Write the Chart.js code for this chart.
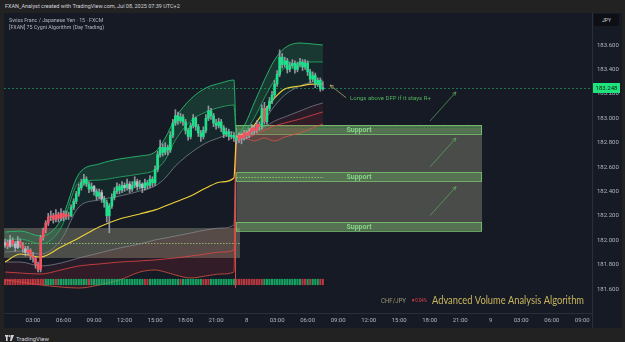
<!DOCTYPE html>
<html>
<head>
<meta charset="utf-8">
<script src="https://cdn.jsdelivr.net/npm/chart.js@4.4.1/dist/chart.umd.min.js"></script>
<style>
  html, body { margin: 0; padding: 0; width: 625px; height: 342px; overflow: hidden; background: #222222; font-family: Roboto, 'Liberation Sans', sans-serif; }
  #head { position: absolute; left: 5px; top: 3px; font-size: 5.5px; line-height: 7px; color: #d1d4dc; white-space: nowrap; }
  #wrap { position: absolute; left: 4px; top: 13px; width: 618px; height: 315px; }
  #title { position: absolute; left: 9px; top: 16.5px; font-size: 5.3px; line-height: 7px; color: #b2b5be; white-space: nowrap; }
  #jpy { position: absolute; left: 594px; top: 14px; width: 25px; height: 12px; background: #0d0f15; color: #d1d4dc; font-size: 5px; line-height: 12px; text-align: center; }
  #logo { position: absolute; left: 5px; top: 334px; height: 8px; display: flex; align-items: center; color: #d1d4dc; font-size: 6px; }
  #logo svg { margin-right: 2px; }
</style>
</head>
<body>
<div id="head">FXAN_Analyst created with TradingView.com, Jul 08, 2025 07:39 UTC+2</div>
<div id="wrap"><canvas id="chart" width="618" height="315"></canvas></div>
<div id="title">Swiss Franc / Japanese Yen · 15 · FXCM<br>[FXAN] 75 Cygni Algorithm (Day Trading)</div>
<div id="jpy">JPY</div>
<div id="logo"><svg width="9" height="6" viewBox="0 0 9 6"><rect x="0" y="0" width="3.4" height="1.6" fill="#d1d4dc"/><rect x="1" y="0" width="1.6" height="6" fill="#d1d4dc"/><circle cx="4.6" cy="1" r="0.9" fill="#d1d4dc"/><polygon points="6,0 9,0 6.6,6 5,6" fill="#d1d4dc"/></svg>TradingView</div>
<script>
// 15 min CHF/JPY candles [open, high, low, close], first bar at 00:15 Jul 7
const candles = [
  [181.96,182.01,181.94,181.98],[181.98,182.00,181.93,181.95],[181.95,182.04,181.94,182.00],[182.00,182.02,181.95,181.97],
  [181.97,181.99,181.91,181.94],[181.94,182.03,181.93,181.99],[181.99,182.01,181.94,181.96],[181.96,181.98,181.90,181.93],
  [181.93,181.95,181.87,181.90],[181.90,181.95,181.88,181.92],[181.92,181.93,181.84,181.87],[181.87,181.90,181.82,181.85],
  [181.85,181.86,181.77,181.80],[181.80,181.82,181.74,181.76],[181.76,182.04,181.74,182.02],[182.02,182.10,182.00,182.08],
  [182.08,182.16,182.06,182.14],[182.14,182.22,182.12,182.19],[182.19,182.24,182.16,182.20],[182.20,182.22,182.14,182.17],
  [182.17,182.25,182.15,182.21],[182.21,182.23,182.15,182.18],[182.18,182.26,182.16,182.22],[182.22,182.24,182.16,182.19],
  [182.19,182.24,182.17,182.21],[182.21,182.23,182.17,182.20],[182.20,182.29,182.19,182.27],[182.27,182.34,182.25,182.32],
  [182.32,182.40,182.30,182.38],[182.38,182.46,182.36,182.43],[182.43,182.50,182.41,182.47],[182.47,182.54,182.45,182.50],
  [182.50,182.52,182.44,182.46],[182.46,182.48,182.39,182.42],[182.42,182.47,182.40,182.44],[182.44,182.45,182.37,182.40],
  [182.40,182.42,182.33,182.36],[182.36,182.42,182.34,182.39],[182.39,182.41,182.31,182.34],[182.34,182.36,182.27,182.31],
  [182.31,182.33,182.15,182.20],[182.20,182.30,182.06,182.28],[182.28,182.38,182.26,182.35],[182.35,182.43,182.33,182.40],
  [182.40,182.47,182.38,182.44],[182.44,182.46,182.38,182.41],[182.41,182.48,182.39,182.45],[182.45,182.47,182.40,182.43],
  [182.43,182.50,182.41,182.46],[182.46,182.48,182.39,182.42],[182.42,182.48,182.40,182.45],[182.45,182.52,182.43,182.48],
  [182.48,182.50,182.41,182.44],[182.44,182.49,182.42,182.46],[182.46,182.47,182.39,182.43],[182.43,182.50,182.41,182.47],
  [182.47,182.49,182.42,182.45],[182.45,182.53,182.43,182.50],[182.50,182.52,182.44,182.47],[182.47,182.61,182.45,182.58],
  [182.58,182.73,182.56,182.70],[182.70,182.82,182.68,182.76],[182.76,182.79,182.69,182.72],[182.72,182.80,182.70,182.76],
  [182.76,182.78,182.70,182.74],[182.74,182.89,182.72,182.86],[182.86,182.99,182.84,182.96],[182.96,183.07,182.94,183.02],
  [183.02,183.05,182.95,182.98],[182.98,183.04,182.96,183.01],[183.01,183.03,182.94,182.97],[182.97,182.99,182.87,182.90],
  [182.90,182.92,182.82,182.85],[182.85,182.96,182.83,182.94],[182.94,183.03,182.92,183.00],[183.00,183.01,182.90,182.93],
  [182.93,182.95,182.85,182.88],[182.88,182.90,182.81,182.85],[182.85,182.93,182.83,182.90],[182.90,183.03,182.88,183.00],
  [183.00,183.10,182.98,183.06],[183.06,183.08,182.99,183.02],[183.02,183.04,182.93,182.96],[182.96,182.99,182.91,182.94],
  [182.94,183.00,182.92,182.97],[182.97,182.99,182.89,182.92],[182.92,182.94,182.84,182.87],[182.87,182.92,182.85,182.89],
  [182.89,182.91,182.82,182.85],[182.85,182.89,182.83,182.86],[182.86,182.88,182.81,182.84],[182.84,182.86,182.79,182.82],
  [182.82,182.88,182.80,182.86],[182.86,182.88,182.79,182.84],[182.84,182.90,182.82,182.88],[182.88,182.90,182.83,182.86],
  [182.86,182.92,182.84,182.89],[182.89,182.95,182.87,182.92],[182.92,182.94,182.87,182.90],[182.90,182.98,182.88,182.95],
  [182.95,182.97,182.90,182.93],[182.93,183.11,182.91,183.08],[183.08,183.13,182.95,182.97],[182.97,183.10,182.95,183.08],
  [183.08,183.17,183.06,183.14],[183.14,183.22,183.12,183.19],[183.19,183.31,183.17,183.28],[183.28,183.39,183.26,183.36],
  [183.36,183.56,183.34,183.50],[183.50,183.53,183.41,183.44],[183.44,183.50,183.42,183.47],[183.47,183.49,183.37,183.40],
  [183.40,183.46,183.38,183.43],[183.43,183.48,183.41,183.45],[183.45,183.47,183.37,183.40],[183.40,183.46,183.38,183.44],
  [183.44,183.49,183.42,183.46],[183.46,183.48,183.39,183.42],[183.42,183.48,183.40,183.45],[183.45,183.47,183.35,183.38],
  [183.38,183.40,183.29,183.32],[183.32,183.38,183.30,183.35],[183.35,183.37,183.25,183.28],[183.28,183.33,183.26,183.31],
  [183.31,183.33,183.22,183.24],[183.24,183.30,183.23,183.25]
];
const firstBarHour = 0.25;
const barStep = 0.25;
// algorithm candle colouring: g = bull, r = bear, w = neutral
const candleTone = 'wrwrwwrrwr' + 'rrrrrrrrrrrrrrrr' +
  'gggggggggwggwggggggggwgwggwgw' + 'gggggggggg' + 'gggggggggg' + 'gggggggggg' + 'ggggggg' +
  'rrrrrrrrr' + 'g' + 'r' + 'gggggggggg' + 'gggggggggg' + 'ggg';
// volume analysis strip under the candles
const volumeTone = 'rrrrrrrrrrrrrrrr' + 'ggggrggggggggggggrggggggg' +
  'ggggggggggggggrrggggggggggggrggggggggrrrgggggggggg' + 'rrrrrrrrrrr' + 'gggggggggggggg' + 'grrgrgggrr';
const volumeStrip = [181.635, 181.68];

// Cygni bands, sampled hours (Jul 7 session then Jul 8 session)
const bandHours = [0.25, 1.75, 3.75, 5.75, 7.5, 9.5, 11.5, 13.5, 15, 16, 17, 18.5, 20, 21.5, 22.75,
                   23, 23.75, 24.75, 25.75, 26.75, 27.75, 29.25, 30.5, 31.5];
const upperOuter = [182.067, 182.075, 182.034, 182.166, 182.543, 182.625, 182.666, 182.690, 182.723, 182.838, 183.002, 183.157, 183.248, 183.289, 183.313,
                    182.862, 182.936, 183.125, 183.313, 183.477, 183.575, 183.616, 183.608, 183.600];
const upperInner = [182.002, 182.010, 181.969, 182.100, 182.469, 182.493, 182.518, 182.543, 182.575, 182.657, 182.821, 182.977, 183.051, 183.092, 183.108,
                    182.846, 182.879, 183.002, 183.166, 183.313, 183.411, 183.452, 183.461, 183.461];
const upperBase = [181.903, 181.911, 181.887, 182.002, 182.272, 182.330, 182.362, 182.403, 182.444, 182.510, 182.608, 182.715, 182.797, 182.846, 182.887,
                   182.821, 182.830, 182.879, 182.985, 183.100, 183.190, 183.264, 183.297, 183.313];
const dfpLine = [181.821, 181.887, 181.862, 181.944, 182.018, 182.108, 182.174, 182.215, 182.248, 182.280, 182.313, 182.362, 182.428, 182.477, 182.510,
                 182.838, 182.870, 182.944, 183.059, 183.166, 183.239, 183.264, 183.280, 183.280];
const lowerBase = [181.821, 181.821, 181.789, 181.813, 181.854, 181.895, 181.936, 181.969, 182.002, 182.018, 182.034, 182.059, 182.084, 182.100, 182.125,
                   182.821, 182.854, 182.887, 182.928, 182.977, 183.010, 183.059, 183.100, 183.125];
const lowerInner = [181.739, 181.731, 181.723, 181.756, 181.789, 181.805, 181.821, 181.830, 181.838, 181.846, 181.854, 181.870, 181.887, 181.903, 181.920,
                    182.821, 182.838, 182.862, 182.903, 182.936, 182.961, 182.993, 183.026, 183.051];
const lowerOuter = [181.674, 181.657, 181.633, 181.616, 181.608, 181.633, 181.674, 181.739, 181.756, 181.739, 181.715, 181.690, 181.707, 181.723, 181.739,
                    182.821, 182.838, 182.813, 182.838, 182.813, 182.846, 182.879, 182.920, 182.952];

// drawings
const lastPrice = 183.248;
const rangeBoxHours = [0.15, 23.35];
const rangeBoxPrices = [181.854, 182.10];
const rangeMid = 181.977;
const zoneHours = [23.0, 47.15];
const supportLevels = [[182.872, 182.944], [182.485, 182.555], [182.076, 182.149]];
const supportLabelHour = 35.05;
const midDotHours = [23.0, 31.6];
const midDotPrice = 182.518;
const sessionBreak = [22.9, 182.84, 181.61];
const upArrows = [[42.03, 182.600, 44.59, 182.838], [42.03, 182.201, 44.59, 182.439], [42.03, 182.977, 44.59, 183.215]];
const noteArrow = [33.78, 183.168, 32.2, 183.272];
const noteText = 'Longs above DFP if it stays R+';
const noteAt = [34.17, 183.162];

// axes
const xRange = [0.147, 57.96];
const tickHours = [3, 6, 9, 12, 15, 18, 21, 24, 27, 30, 33, 36, 39, 42, 45, 48, 51, 54, 57];
const tickLabels = ['03:00','06:00','09:00','12:00','15:00','18:00','21:00','8','03:00','06:00','09:00','12:00','15:00','18:00','21:00','9','03:00','06:00','09:00'];
const priceTicks = [181.6, 181.8, 182.0, 182.2, 182.4, 182.6, 182.8, 183.0, 183.2, 183.4, 183.6];
const yRange = [183.6 - (313 - 45) / 122, 183.6 + (45 - 13) / 122];

const toneColor = { g: '#1fe08a', r: '#f7525f', w: '#b8bbc4' };
const barHour = i => firstBarHour + i * barStep;

const annot = {
  id: 'annot',
  beforeDraw(c) {
    const ctx = c.ctx;
    ctx.save();
    ctx.fillStyle = '#161a25';
    ctx.fillRect(0, 0, c.width, c.height);
    ctx.restore();
  },
  beforeDatasetsDraw(c) {
    const { ctx, chartArea: a } = c;
    const X = h => c.scales.x.getPixelForValue(h);
    const Y = p => c.scales.y.getPixelForValue(p);
    ctx.save();
    ctx.beginPath();
    ctx.rect(a.left, a.top, a.right - a.left, a.bottom - a.top);
    ctx.clip();

    // Jul 7 range box
    ctx.fillStyle = 'rgba(200,200,160,0.3)';
    ctx.fillRect(X(rangeBoxHours[0]), Y(rangeBoxPrices[1]), X(rangeBoxHours[1]) - X(rangeBoxHours[0]), Y(rangeBoxPrices[0]) - Y(rangeBoxPrices[1]));
    ctx.strokeStyle = 'rgba(150,210,120,0.85)';
    ctx.lineWidth = 1;
    ctx.setLineDash([1.5, 1.5]);
    ctx.beginPath();
    ctx.moveTo(X(rangeBoxHours[0]), Math.round(Y(rangeMid)) + 0.5);
    ctx.lineTo(X(rangeBoxHours[1]), Math.round(Y(rangeMid)) + 0.5);
    ctx.stroke();
    ctx.setLineDash([]);

    // support zone
    const top = supportLevels[0][1], bot = supportLevels[2][0];
    ctx.fillStyle = 'rgba(195,192,160,0.3)';
    ctx.fillRect(X(zoneHours[0]), Y(top), X(zoneHours[1]) - X(zoneHours[0]), Y(bot) - Y(top));
    supportLevels.forEach(([lo, hi]) => {
      const x0 = X(zoneHours[0]), w = X(zoneHours[1]) - x0, y0 = Y(hi), hgt = Y(lo) - y0;
      ctx.fillStyle = 'rgba(110,190,100,0.33)';
      ctx.fillRect(x0, y0, w, hgt);
      ctx.strokeStyle = 'rgba(125,205,115,0.75)';
      ctx.lineWidth = 1;
      ctx.strokeRect(Math.round(x0) + 0.5, Math.round(y0) + 0.5, Math.round(w) - 1, Math.round(hgt));
    });
    ctx.strokeStyle = 'rgba(30,110,55,0.9)';
    ctx.setLineDash([1.5, 1.5]);
    ctx.beginPath();
    ctx.moveTo(X(zoneHours[0]), Math.round(Y(supportLevels[0][1])) + 2.5);
    ctx.lineTo(X(zoneHours[1]), Math.round(Y(supportLevels[0][1])) + 2.5);
    ctx.stroke();
    ctx.strokeStyle = 'rgba(150,210,120,0.85)';
    ctx.beginPath();
    ctx.moveTo(X(midDotHours[0]), Math.round(Y(midDotPrice)) + 0.5);
    ctx.lineTo(X(midDotHours[1]), Math.round(Y(midDotPrice)) + 0.5);
    ctx.stroke();

    // last price line
    ctx.strokeStyle = 'rgba(30,150,95,0.75)';
    ctx.setLineDash([2, 2]);
    ctx.beginPath();
    ctx.moveTo(a.left, Math.round(Y(lastPrice)) + 0.5);
    ctx.lineTo(a.right, Math.round(Y(lastPrice)) + 0.5);
    ctx.stroke();
    ctx.setLineDash([]);

    // session break
    ctx.strokeStyle = 'rgba(235,75,75,0.9)';
    ctx.beginPath();
    ctx.moveTo(Math.round(X(sessionBreak[0])) + 0.5, Y(sessionBreak[1]));
    ctx.lineTo(Math.round(X(sessionBreak[0])) + 0.5, Y(sessionBreak[2]));
    ctx.stroke();
    ctx.restore();
  },
  afterDatasetsDraw(c) {
    const { ctx } = c;
    const X = h => c.scales.x.getPixelForValue(h);
    const Y = p => c.scales.y.getPixelForValue(p);
    const arrow = (h0, p0, h1, p1, col) => {
      const x0 = X(h0), y0 = Y(p0), x1 = X(h1), y1 = Y(p1);
      const ang = Math.atan2(y1 - y0, x1 - x0);
      ctx.strokeStyle = col;
      ctx.lineWidth = 0.8;
      ctx.beginPath();
      ctx.moveTo(x0, y0); ctx.lineTo(x1, y1);
      ctx.moveTo(x1, y1); ctx.lineTo(x1 - 4 * Math.cos(ang - 0.45), y1 - 4 * Math.sin(ang - 0.45));
      ctx.moveTo(x1, y1); ctx.lineTo(x1 - 4 * Math.cos(ang + 0.45), y1 - 4 * Math.sin(ang + 0.45));
      ctx.stroke();
    };
    ctx.save();
    upArrows.forEach(a => arrow(a[0], a[1], a[2], a[3], 'rgba(95,175,95,0.85)'));
    arrow(noteArrow[0], noteArrow[1], noteArrow[2], noteArrow[3], 'rgba(190,180,110,0.9)');

    ctx.font = '6px Roboto, sans-serif';
    ctx.fillStyle = '#4fb35a';
    ctx.textAlign = 'left';
    ctx.textBaseline = 'middle';
    ctx.fillText(noteText, X(noteAt[0]), Y(noteAt[1]));

    ctx.font = 'bold 7px Roboto, sans-serif';
    ctx.fillStyle = '#86d486';
    ctx.textAlign = 'center';
    supportLevels.forEach(([lo, hi]) => ctx.fillText('Support', X(supportLabelHour), (Y(lo) + Y(hi)) / 2 + 0.5));

    // volume analysis legend (page coords minus canvas offset)
    ctx.textAlign = 'left';
    ctx.textBaseline = 'alphabetic';
    ctx.font = '6.5px Roboto, sans-serif';
    ctx.fillStyle = '#9d9670';
    ctx.fillText('CHF/JPY', 381 - 4, 302.5 - 13, 25);
    ctx.font = '5px Roboto, sans-serif';
    ctx.fillStyle = '#e8434f';
    ctx.fillText('▼0.04%', 411 - 4, 302 - 13, 16);
    ctx.font = '11px Lato, sans-serif';
    ctx.fillStyle = '#c9b65c';
    ctx.fillText('Advanced Volume Analysis Algorithm', 432 - 4, 304 - 13, 152);
    ctx.restore();
  },
  afterDraw(c) {
    const { ctx, chartArea: a } = c;
    const y = Math.round(c.scales.y.getPixelForValue(lastPrice));
    ctx.save();
    ctx.strokeStyle = '#2a2e39';
    ctx.lineWidth = 1;
    ctx.beginPath();
    ctx.moveTo(a.right + 0.5, a.bottom);
    ctx.lineTo(a.right + 0.5, c.height);
    ctx.stroke();
    ctx.fillStyle = '#1fe47c';
    ctx.fillRect(a.right + 1, y - 5, 27, 10);
    ctx.fillStyle = '#0c1a12';
    ctx.font = '6px Roboto, sans-serif';
    ctx.textAlign = 'center';
    ctx.textBaseline = 'middle';
    ctx.fillText(lastPrice.toFixed(3), a.right + 14.5, y + 0.5);
    ctx.restore();
  }
};

const band = (vals, color, order, fill, fillColor, width) => ({
  type: 'line',
  data: bandHours.map((h, i) => ({ x: h, y: vals[i] })),
  borderColor: color,
  borderWidth: width || 1,
  pointRadius: 0,
  cubicInterpolationMode: 'monotone',
  fill: fill === undefined ? false : { target: fill },
  backgroundColor: fillColor || 'transparent',
  order
});

// no label padding: the plot must fill the panel exactly
const noPad = s => { s.paddingTop = 0; s.paddingBottom = 0; s.paddingLeft = 0; s.paddingRight = 0; };

Chart.defaults.font.family = 'Roboto, sans-serif';
Chart.defaults.font.size = 6;
Chart.defaults.color = '#b2b5be';

new Chart(document.getElementById('chart'), {
  type: 'bar',
  data: {
    datasets: [
      band(upperOuter, 'rgba(40,195,115,0.85)', 12, 1, 'rgba(35,165,95,0.22)'),
      band(upperInner, 'rgba(40,175,100,0.8)', 11, 2, 'rgba(20,120,75,0.14)'),
      band(upperBase, 'rgba(135,138,150,0.75)', 13),
      band(dfpLine, '#ecd03a', 5, undefined, undefined, 1.2),
      band(lowerBase, 'rgba(150,152,165,0.6)', 16, 5, 'rgba(200,45,55,0.10)'),
      band(lowerInner, 'rgba(225,70,70,0.8)', 15, 6, 'rgba(200,45,55,0.16)'),
      band(lowerOuter, 'rgba(220,85,65,0.75)', 14),
      {
        type: 'bar',
        data: candles.map((c, i) => ({ x: barHour(i), y: volumeStrip })),
        backgroundColor: candles.map((c, i) => volumeTone[i] === 'g' ? 'rgba(20,200,115,0.8)' : 'rgba(225,65,70,0.8)'),
        barThickness: 1.4,
        grouped: false,
        order: 3
      },
      {
        type: 'bar',
        data: candles.map((c, i) => ({ x: barHour(i), y: [c[2], c[1]] })),
        backgroundColor: 'rgba(165,168,178,0.85)',
        barThickness: 1,
        grouped: false,
        order: 2
      },
      {
        type: 'bar',
        data: candles.map((c, i) => ({ x: barHour(i), y: [Math.min(c[0], c[3]), Math.max(c[0], c[3])] })),
        backgroundColor: candles.map((c, i) => toneColor[candleTone[i]] || toneColor.g),
        barThickness: 2,
        minBarLength: 1,
        grouped: false,
        order: 1
      }
    ]
  },
  options: {
    responsive: false,
    animation: false,
    events: [],
    layout: { padding: 0 },
    plugins: { legend: { display: false }, tooltip: { enabled: false } },
    scales: {
      x: {
        type: 'linear',
        offset: false,
        min: xRange[0],
        max: xRange[1],
        afterBuildTicks: s => { s.ticks = tickHours.map(v => ({ value: v })); },
        afterFit: s => { s.height = 15; noPad(s); },
        grid: { display: false, drawTicks: false },
        border: { display: true, color: '#2a2e39' },
        ticks: {
          autoSkip: false, maxRotation: 0, minRotation: 0, padding: 4,
          callback: v => tickLabels[tickHours.indexOf(v)] || ''
        }
      },
      y: {
        type: 'linear',
        position: 'right',
        min: yRange[0],
        max: yRange[1],
        afterBuildTicks: s => { s.ticks = priceTicks.map(v => ({ value: v })); },
        afterFit: s => { s.width = 30; noPad(s); },
        grid: { display: false, drawTicks: false },
        border: { display: true, color: '#2a2e39' },
        ticks: { padding: 5, callback: v => v.toFixed(3) }
      }
    }
  },
  plugins: [annot]
});
</script>
</body>
</html>
